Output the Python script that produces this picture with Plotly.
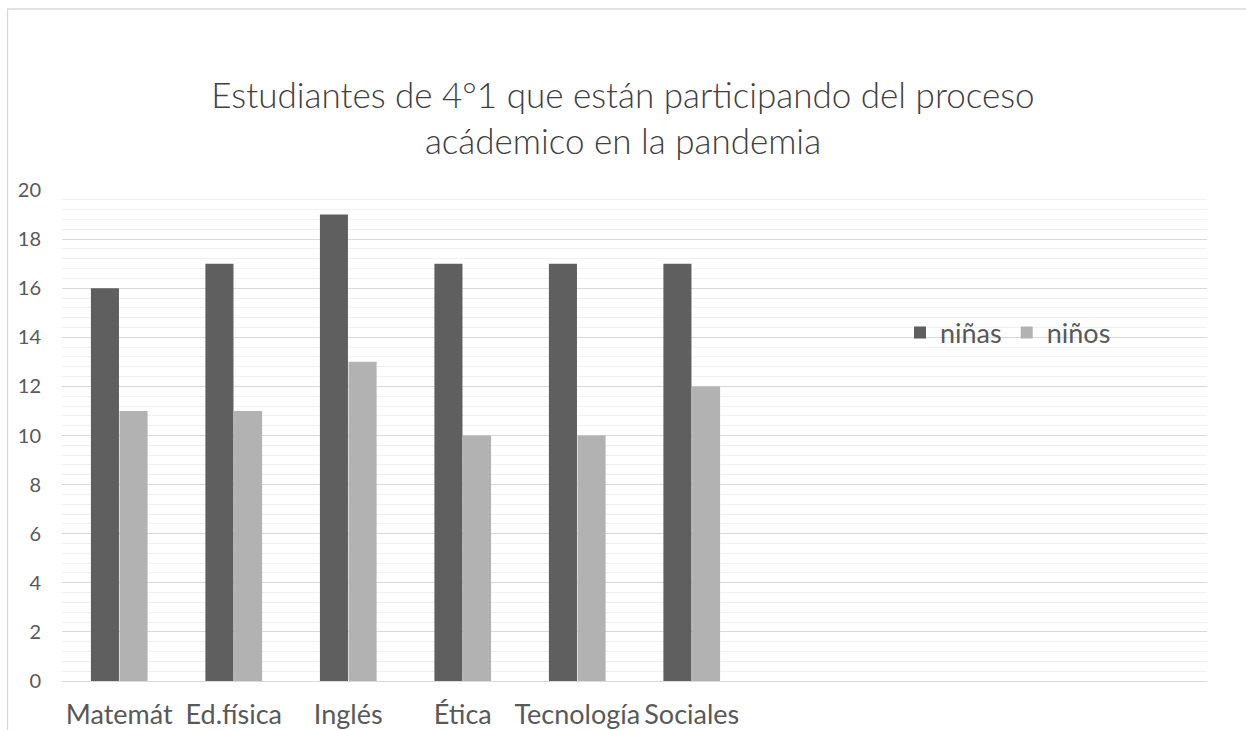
import plotly.graph_objects as go

categories = ["Matemát", "Ed.física", "Inglés", "Ética", "Tecnología", "Sociales"]
n_slots = 10  # axis holds room for 10 category slots (last 4 empty)
ninas = [16, 17, 19, 17, 17, 17]
ninos = [11, 11, 13, 10, 10, 12]
y_ticks = list(range(0, 21, 2))

title_text = "Estudiantes de 4°1 que están participando del proceso<br>acádemico en la pandemia"

FONT = "Lato"
positions = list(range(len(categories)))

fig = go.Figure()
fig.add_trace(go.Bar(name="niñas", x=positions, y=ninas, marker_color="#5f5f5f",
                     marker_line_width=0))
fig.add_trace(go.Bar(name="niños", x=positions, y=ninos, marker_color="#b2b2b2",
                     marker_line_width=0))

W, H = 1246, 730
L, R, T, B = 62, 39, 190, 49
pw, ph = W - L - R, H - T - B

def px_to_paper_x(px):
    return (px - L) / pw

def px_to_paper_y(py):
    return (H - B - py) / ph

fig.update_layout(
    width=W, height=H,
    margin=dict(l=L, r=R, t=T, b=B, autoexpand=False),
    paper_bgcolor="white", plot_bgcolor="white",
    barmode="group", bargap=0.5, bargroupgap=0.02,
    font=dict(family=FONT, color="#595959"),
    title=dict(text=title_text, x=0.5, xref="container", xanchor="center",
               y=1 - 108 / H, yanchor="middle",
               font=dict(family=FONT, size=35, color="#404040", weight=300)),
    legend=dict(orientation="h", x=px_to_paper_x(900), y=px_to_paper_y(333),
                xanchor="left", yanchor="middle",
                font=dict(family=FONT, size=27, color="#595959"),
                bgcolor="rgba(0,0,0,0)", itemclick=False),
    xaxis=dict(
        range=[-0.5, n_slots - 0.5],
        tickvals=positions, ticktext=categories,
        showgrid=False, zeroline=False,
        showline=True, linecolor="#d9d9d9", linewidth=1,
        ticks="", ticklabelstandoff=10, automargin=False, tickangle=0,
        tickfont=dict(family=FONT, size=27, color="#595959"),
        fixedrange=True,
    ),
    yaxis=dict(
        range=[0, 20], tickvals=y_ticks,
        showgrid=True, gridcolor="#d9d9d9", gridwidth=1,
        zeroline=True, zerolinecolor="#d9d9d9", zerolinewidth=1,
        minor=dict(dtick=0.4, showgrid=True, gridcolor="#f0f0f0", gridwidth=1),
        ticks="", ticklabelstandoff=20, automargin=False,
        tickfont=dict(family=FONT, size=20, color="#595959"),
        fixedrange=True,
    ),
    shapes=[dict(type="rect", xref="paper", yref="paper",
                 x0=px_to_paper_x(7.5), x1=px_to_paper_x(1260),
                 y0=px_to_paper_y(745), y1=px_to_paper_y(9),
                 line=dict(color="#d9d9d9", width=1.3), layer="below")],
)

fig.write_html("out.html", config={"displayModeBar": False},
               post_script="document.body.style.margin='0';")
